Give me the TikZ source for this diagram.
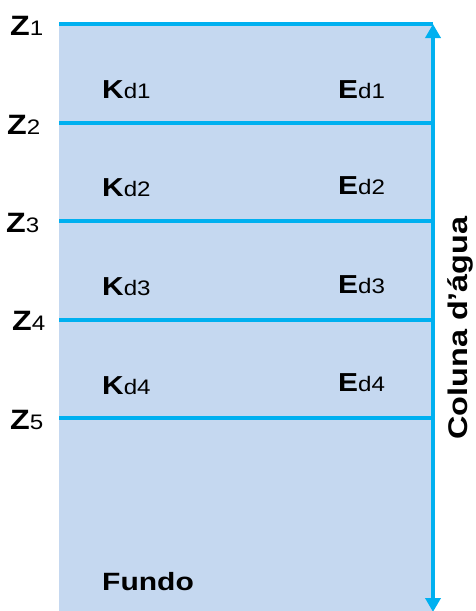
\documentclass[tikz,border=0pt]{standalone}
\usepackage{fontspec}
\setmainfont{Liberation Sans}
\usetikzlibrary{arrows.meta}
\definecolor{waterfill}{RGB}{197,216,240}
\definecolor{cyanline}{RGB}{0,176,240}
\newcommand{\mylab}[3]{\scalebox{1.15}[1]{{\fontsize{#1}{#1}\selectfont\bfseries #2}{\fontsize{21}{21}\selectfont #3}}}
\tikzset{
  layerline/.style={draw=cyanline, line width=4.5pt},
  lab/.style={inner sep=0pt, anchor=base west, text=black},
  axisarrow/.style={draw=cyanline, line width=4.5pt, {Triangle[length=14pt,width=15pt]}-{Triangle[length=14pt,width=15pt]}}
}
\begin{document}
\begin{tikzpicture}[x=1pt,y=-1pt]
\useasboundingbox (0,0) rectangle (476,611);
% water column fill
\fill[waterfill] (59,24) rectangle (433,611);
% line end points
\coordinate (l1) at (59,24);  \coordinate (r1) at (433,24);
\coordinate (l2) at (59,123); \coordinate (r2) at (433,123);
\coordinate (l3) at (59,221); \coordinate (r3) at (433,221);
\coordinate (l4) at (59,320); \coordinate (r4) at (433,320);
\coordinate (l5) at (59,418); \coordinate (r5) at (433,418);
\coordinate (abot) at (433,612);
\coordinate (atop) at (433,24);
\draw[layerline] (l1) -- (r1);
\draw[layerline] (l2) -- (r2);
\draw[layerline] (l3) -- (r3);
\draw[layerline] (l4) -- (r4);
\draw[layerline] (l5) -- (r5);
\draw[axisarrow] (abot) -- (atop);
% depth labels
\node[lab] (z1) at (10,35) {\mylab{28}{Z}{1}};
\node[lab] (z2) at (7,134) {\mylab{28}{Z}{2}};
\node[lab] (z3) at (6,232) {\mylab{28}{Z}{3}};
\node[lab] (z4) at (12,330) {\mylab{28}{Z}{4}};
\node[lab] (z5) at (10,429) {\mylab{28}{Z}{5}};
% Kd labels
\node[lab] (k1) at (102,98) {\mylab{26}{K}{d1}};
\node[lab] (k2) at (102,196) {\mylab{26}{K}{d2}};
\node[lab] (k3) at (102,295) {\mylab{26}{K}{d3}};
\node[lab] (k4) at (102,394) {\mylab{26}{K}{d4}};
% Ed labels
\node[lab] (e1) at (338,98) {\mylab{26}{E}{d1}};
\node[lab] (e2) at (338,194) {\mylab{26}{E}{d2}};
\node[lab] (e3) at (338,293) {\mylab{26}{E}{d3}};
\node[lab] (e4) at (338,391) {\mylab{26}{E}{d4}};
% bottom
\node[lab] (fundo) at (102,590) {\scalebox{1.2}[1]{\fontsize{25}{25}\selectfont\bfseries Fundo}};
% axis label
\node[inner sep=0pt, anchor=base, rotate=90] (col) at (467,328) {\scalebox{1.2}[1]{\fontsize{27}{27}\selectfont\bfseries Coluna d’água}};
\end{tikzpicture}
\end{document}
